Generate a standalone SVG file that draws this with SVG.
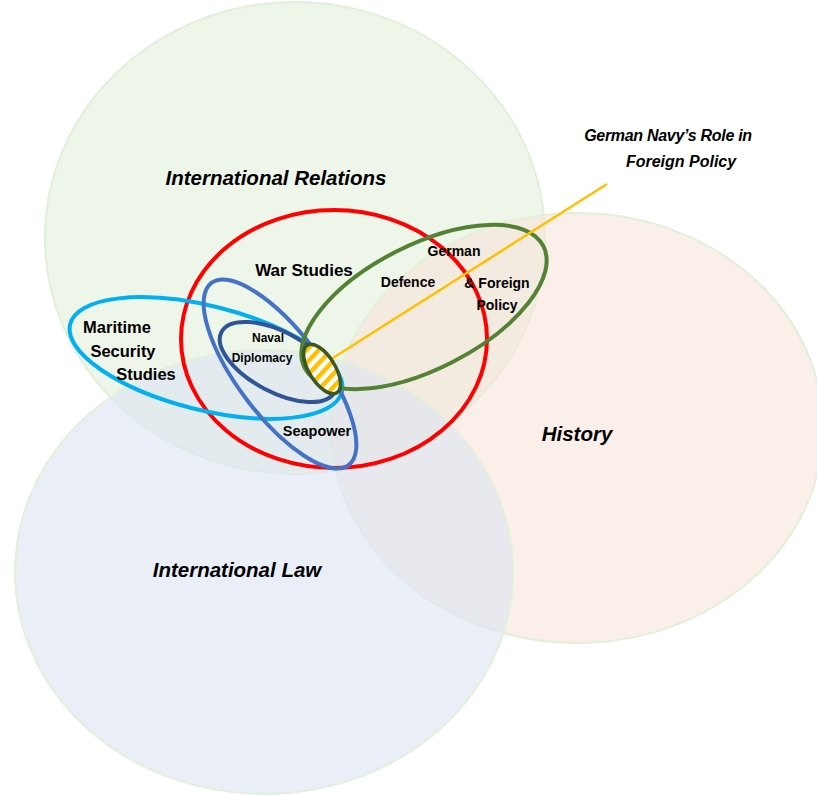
<svg xmlns="http://www.w3.org/2000/svg" width="817" height="795" viewBox="0 0 817 795">
  <defs>
    <pattern id="hatch" patternUnits="userSpaceOnUse" width="9" height="9" patternTransform="rotate(-15)">
      <rect width="9" height="9" fill="#ffffff"/>
      <rect width="4.5" height="9" fill="#FFC000"/>
    </pattern>
    <style>
      .field { stroke-width: 2; }
      .ring { fill: none; stroke-width: 4; }
      .big { font-family: "Liberation Sans", Arial, sans-serif; font-weight: bold; font-style: italic; font-size: 20.5px; fill: #000; text-anchor: middle; }
      .note { font-family: "Liberation Sans", Arial, sans-serif; font-weight: bold; font-style: italic; font-size: 16px; fill: #000; text-anchor: middle; }
      .lbl { font-family: "Liberation Sans", Arial, sans-serif; font-weight: bold; fill: #000; text-anchor: middle; }
    </style>
  </defs>
  <rect width="817" height="795" fill="#ffffff"/>

  <!-- discipline fields -->
  <g id="international-relations">
    <ellipse class="field" cx="295" cy="238" rx="250" ry="236" fill="#E2EFDA" fill-opacity="0.6" stroke="#E2EFDA"/>
    <text class="big" x="276" y="185">International Relations</text>
  </g>
  <g id="history">
    <ellipse class="field" cx="577" cy="428" rx="246" ry="215" fill="#F8E5DA" fill-opacity="0.6" stroke="#E2EFDA"/>
    <text class="big" x="577" y="441">History</text>
  </g>
  <g id="international-law">
    <ellipse class="field" cx="264" cy="572" rx="249" ry="222" fill="#DCE5F1" fill-opacity="0.6" stroke="#E2EFDA"/>
    <text class="big" x="237" y="577">International Law</text>
  </g>

  <!-- sub-fields -->
  <g id="war-studies">
    <ellipse class="ring" cx="334" cy="339" rx="153" ry="129" stroke="#FF0000"/>
    <text class="lbl" x="304" y="276" font-size="17">War Studies</text>
  </g>
  <g id="maritime-security">
    <ellipse class="ring" cx="206" cy="358" rx="140" ry="52" transform="rotate(14 206 358)" stroke="#00B0F0"/>
    <text class="lbl" x="117" y="333" font-size="16.5">Maritime</text>
    <text class="lbl" x="123" y="357" font-size="16.5">Security</text>
    <text class="lbl" x="146" y="380" font-size="16.5">Studies</text>
  </g>
  <g id="seapower">
    <ellipse class="ring" cx="280" cy="374" rx="114" ry="42" transform="rotate(53 280 374)" stroke="#4472C4"/>
    <text class="lbl" x="317" y="436" font-size="14.5">Seapower</text>
  </g>
  <g id="naval-diplomacy">
    <ellipse class="ring" cx="278" cy="362" rx="64" ry="30" transform="rotate(28 278 362)" stroke="#2F5597" stroke-width="3"/>
    <text class="lbl" x="268" y="342" font-size="12">Naval</text>
    <text class="lbl" x="262" y="362" font-size="12">Diplomacy</text>
  </g>
  <g id="german-defence-foreign-policy">
    <ellipse class="ring" cx="424" cy="307" rx="134" ry="62" transform="rotate(-27 424 307)" stroke="#548235" stroke-width="3.5"/>
    <text class="lbl" x="454" y="256" font-size="14">German</text>
    <text class="lbl" x="408" y="287" font-size="14">Defence</text>
    <text class="lbl" x="497" y="288" font-size="14">&amp; Foreign</text>
    <text class="lbl" x="497" y="310" font-size="14">Policy</text>
  </g>

  <!-- connectors -->
  <g id="connectors">
    <line x1="325" y1="363" x2="607" y2="184" stroke="#FFC000" stroke-width="2.5"/>
  </g>

  <g id="german-navy-role">
    <ellipse cx="322" cy="369" rx="28" ry="13" transform="rotate(58 322 369)" fill="url(#hatch)" stroke="#385723" stroke-width="3.5"/>
    <text class="note" x="668" y="141" letter-spacing="-0.3">German Navy’s Role in</text>
    <text class="note" x="681" y="167">Foreign Policy</text>
  </g>
</svg>
